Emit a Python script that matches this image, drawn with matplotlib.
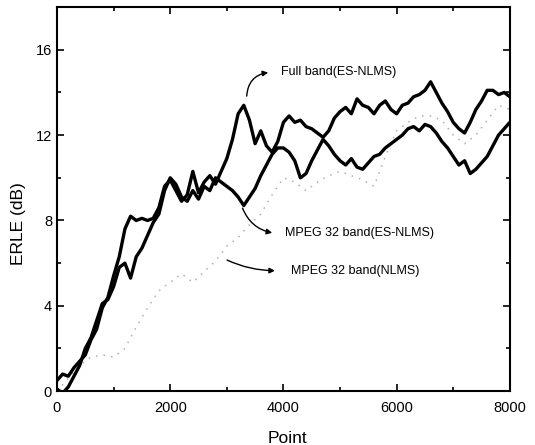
import numpy as np
import matplotlib
matplotlib.use("Agg")
import matplotlib.pyplot as plt

plt.rcParams["font.family"] = ["Liberation Sans", "DejaVu Sans"]

# ---------- 数据 ----------
POINTS = np.arange(0, 8001, 100)

FULL_BAND = [0.5, 0.8, 0.7, 1.1, 1.4, 1.7, 2.4, 2.9, 3.9, 4.4,
             5.4, 6.3, 7.6, 8.2, 8.0, 8.1, 8.0, 8.1, 8.6, 9.6,
             9.9, 9.4, 8.9, 9.2, 10.3, 9.3, 9.8, 10.1, 9.7, 10.3,
             10.9, 11.8, 13.0, 13.4, 12.7, 11.6, 12.2, 11.5, 11.2, 11.7,
             12.6, 12.9, 12.6, 12.7, 12.4, 12.3, 12.1, 11.9, 12.2, 12.8,
             13.1, 13.3, 13.0, 13.7, 13.4, 13.3, 13.0, 13.4, 13.6, 13.2,
             13.0, 13.4, 13.5, 13.8, 13.9, 14.1, 14.5, 14.0, 13.5, 13.1,
             12.6, 12.3, 12.1, 12.6, 13.2, 13.6, 14.1, 14.1, 13.9, 14.0,
             13.8]

MPEG_ES = [0.1, -0.1, 0.2, 0.7, 1.2, 2.0, 2.5, 3.3, 4.1, 4.3,
           4.9, 5.8, 6.0, 5.3, 6.3, 6.7, 7.3, 7.9, 8.3, 9.4,
           10.0, 9.7, 9.1, 8.9, 9.4, 9.0, 9.6, 9.4, 10.0, 9.8,
           9.6, 9.4, 9.1, 8.7, 9.1, 9.5, 10.1, 10.6, 11.1, 11.4,
           11.4, 11.2, 10.8, 10.0, 10.2, 10.8, 11.3, 11.8, 11.5, 11.1,
           10.8, 10.6, 10.9, 10.5, 10.4, 10.7, 11.0, 11.1, 11.4, 11.6,
           11.8, 12.0, 12.3, 12.4, 12.2, 12.5, 12.4, 12.1, 11.7, 11.4,
           11.0, 10.6, 10.8, 10.2, 10.4, 10.7, 11.0, 11.5, 12.0, 12.3,
           12.6]

POINTS_N = np.arange(0, 8001, 200)
MPEG_NLMS = [0.0, 0.6, 1.2, 1.6, 1.7, 1.6, 2.0, 3.0, 3.9, 4.7,
             5.1, 5.5, 5.1, 5.6, 6.1, 6.8, 7.2, 7.8, 8.3, 9.2,
             10.0, 9.8, 9.4, 9.8, 10.1, 10.3, 10.1, 9.9, 9.6, 11.0,
             12.2, 12.6, 12.9, 12.9, 12.7, 12.0, 11.6, 12.0, 12.7, 13.4,
             13.2]

# ---------- 画图 ----------
fig = plt.figure(figsize=(5.35, 4.45), dpi=100)
ax = fig.add_axes([0.1065, 0.121, 0.8465, 0.863])

ax.plot(POINTS_N, MPEG_NLMS, color="#b0b0b0", linewidth=1.1,
        linestyle=(0, (1, 4)))
ax.plot(POINTS, MPEG_ES, color="black", linewidth=2.4)
ax.plot(POINTS, FULL_BAND, color="black", linewidth=2.4)

# 标注
arrow_kw = dict(arrowstyle="-|>", color="black", lw=1.0, mutation_scale=8)
ax.annotate("", xy=(3780, 14.95), xytext=(3350, 13.7),
            arrowprops=dict(connectionstyle="arc3,rad=-0.45", **arrow_kw))
ax.text(3960, 14.95, "Full band(ES-NLMS)", fontsize=9, va="center")

ax.annotate("", xy=(3850, 7.4), xytext=(3260, 8.7),
            arrowprops=dict(connectionstyle="arc3,rad=0.3", **arrow_kw))
ax.text(4020, 7.4, "MPEG 32 band(ES-NLMS)", fontsize=9, va="center")

ax.annotate("", xy=(3900, 5.65), xytext=(2960, 6.2),
            arrowprops=dict(connectionstyle="arc3,rad=0.12", **arrow_kw))
ax.text(4140, 5.65, "MPEG 32 band(NLMS)", fontsize=9, va="center")

ax.set_xlim(0, 8000)
ax.set_ylim(0, 18)
ax.set_xticks([0, 2000, 4000, 6000, 8000])
ax.set_xticks(np.arange(0, 8001, 1000), minor=True)
ax.set_yticks([0, 4, 8, 12, 16])
ax.set_yticks(np.arange(0, 18.1, 2), minor=True)
ax.tick_params(which="both", direction="in", top=True, right=True,
               labelsize=10.5, width=1.2)
ax.tick_params(which="major", length=5)
ax.tick_params(which="minor", length=3)
ax.tick_params(axis="x", pad=7)
for s in ax.spines.values():
    s.set_linewidth(1.5)

ax.set_xlabel("Point", fontsize=12.5, va="center")
ax.xaxis.set_label_coords(0.508, -0.122)
ax.set_ylabel("ERLE (dB)", fontsize=12.5, va="center")
ax.yaxis.set_label_coords(-0.086, 0.4375)

fig.savefig("out.png", dpi=100)
